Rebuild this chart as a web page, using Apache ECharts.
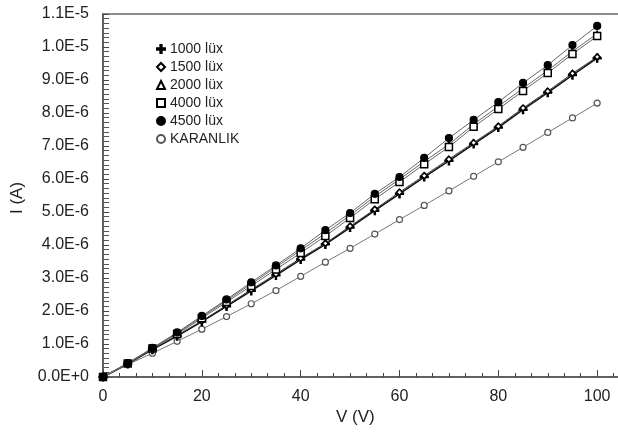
<!DOCTYPE html>
<html>
<head>
<meta charset="utf-8">
<script src="https://cdn.jsdelivr.net/npm/echarts@6/dist/echarts.min.js"></script>
<style>html,body{margin:0;padding:0;background:#fff;overflow:hidden}#c{width:618px;height:434px}</style>
</head>
<body>
<div id="c"></div>
<script>
var voltages = [0,5,10,15,20,25,30,35,40,45,50,55,60,65,70,75,80,85,90,95,100];
// currents in microamperes
var lux1000 = [0,0.40,0.83,1.24,1.68,2.14,2.61,3.08,3.56,4.02,4.53,5.04,5.55,6.06,6.55,7.06,7.56,8.10,8.62,9.15,9.66];
var lux1500 = [0,0.40,0.84,1.26,1.70,2.17,2.65,3.12,3.60,4.05,4.57,5.08,5.60,6.10,6.60,7.10,7.60,8.15,8.66,9.20,9.70];
var lux2000 = [0,0.42,0.87,1.33,1.82,2.32,2.82,3.33,3.84,4.35,4.90,5.47,5.99,6.53,7.05,7.66,8.20,8.75,9.29,9.87,10.40];
var lux4000 = [0,0.41,0.86,1.30,1.78,2.27,2.76,3.26,3.76,4.27,4.82,5.39,5.91,6.45,6.97,7.58,8.12,8.67,9.21,9.79,10.33];
var lux4500 = [0,0.42,0.88,1.35,1.85,2.35,2.87,3.38,3.90,4.45,4.97,5.55,6.06,6.64,7.24,7.79,8.33,8.91,9.45,10.06,10.64];
var karanlik = [0,0.38,0.72,1.08,1.45,1.83,2.22,2.62,3.05,3.48,3.90,4.33,4.77,5.20,5.64,6.08,6.52,6.96,7.41,7.85,8.30];
var seriesNames = ['1000 lüx','1500 lüx','2000 lüx','4000 lüx','4500 lüx','KARANLIK'];
var xTicks = [0,20,40,60,80,100];
var yTicks = ['0.0E+0','1.0E-6','2.0E-6','3.0E-6','4.0E-6','5.0E-6','6.0E-6','7.0E-6','8.0E-6','9.0E-6','1.0E-5','1.1E-5'];

var plusPath = 'path://M4.2,0 L5.8,0 L5.8,4.2 L10,4.2 L10,5.8 L5.8,5.8 L5.8,10 L4.2,10 L4.2,5.8 L0,5.8 L0,4.2 L4.2,4.2 Z';

function pts(arr){ return voltages.map(function(v,i){ return [v, arr[i]*1e-6]; }); }

var FONT = 'Liberation Sans, Arial, sans-serif';
var chart = echarts.init(document.getElementById('c'), null, {renderer:'canvas'});

function mk(name, data, symbol, size, fill, border, lineColor, lineWidth, bw){
  return {
    name: name, type: 'line', data: pts(data), symbol: symbol, symbolSize: size,
    showAllSymbol: true,
    itemStyle: {color: fill, borderColor: border, borderWidth: bw || 1.2},
    lineStyle: {color: lineColor, width: lineWidth},
    emphasis: {disabled: true}, animation: false, z: 3
  };
}

var option = {
  animation: false,
  backgroundColor: '#fff',
  grid: {left: 103, top: 14, width: 593, height: 363, outerBoundsMode: 'none', containLabel: false,
         show: true, borderColor: '#666', borderWidth: 1.5, backgroundColor: 'transparent'},
  legend: {
    orient: 'vertical', left: 151, top: 37, itemWidth: 8, itemHeight: 8, itemGap: 4,
    textStyle: {fontFamily: FONT, fontSize: 14, color: '#222', lineHeight: 14},
    data: [
      {name: seriesNames[0], icon: plusPath},
      {name: seriesNames[1], icon: 'diamond'},
      {name: seriesNames[2], icon: 'triangle'},
      {name: seriesNames[3], icon: 'rect'},
      {name: seriesNames[4], icon: 'circle'},
      {name: seriesNames[5], icon: 'circle'}
    ]
  },
  xAxis: {
    type: 'value', min: 0, max: 120, interval: 20,
    axisLine: {show: true, onZero: false, lineStyle: {color: '#555', width: 1.5}},
    axisTick: {show: true, inside: true, length: 7, lineStyle: {color: '#444'}},
    minorTick: {show: true, splitNumber: 6, length: 4, lineStyle: {color: '#444'}},
    splitLine: {show: false},
    axisLabel: {fontFamily: FONT, fontSize: 16, color: '#222', margin: 12,
      formatter: function(v){ return xTicks.indexOf(Math.round(v)) >= 0 ? String(Math.round(v)) : ''; }}
  },
  yAxis: {
    type: 'value', min: 0, max: 1.1e-5, interval: 1e-6,
    axisLine: {show: true, lineStyle: {color: '#555', width: 1.5}},
    axisTick: {show: true, inside: true, length: 6, lineStyle: {color: '#444'}},
    minorTick: {show: true, splitNumber: 7, length: 6, lineStyle: {color: '#555'}},
    splitLine: {show: false},
    axisLabel: {fontFamily: FONT, fontSize: 16, color: '#222', margin: 14,
      formatter: function(v){ var i = Math.round(v/1e-6); return yTicks[i] !== undefined ? yTicks[i] : ''; }}
  },
  graphic: [
    {type: 'text', left: 336, top: 409, style: {text: 'V (V)', font: '17px ' + FONT, fill: '#222'}},
    {type: 'text', x: 17, y: 198, rotation: Math.PI/2, style: {text: 'I (A)', font: '17px ' + FONT, fill: '#222', textAlign: 'center', textVerticalAlign: 'middle'}}
  ],
  series: [
    mk(seriesNames[5], karanlik, 'circle', 6, '#fff', '#555', '#777', 1),
    mk(seriesNames[0], lux1000, plusPath, 8, '#000', '#000', '#111', 1.5),
    mk(seriesNames[1], lux1500, 'diamond', 6, '#fff', '#000', '#333', 1, 1.6),
    mk(seriesNames[2], lux2000, 'triangle', 6, '#fff', '#000', '#666', 1),
    mk(seriesNames[3], lux4000, 'rect', 7, '#fff', '#000', '#666', 1, 1.5),
    mk(seriesNames[4], lux4500, 'circle', 7, '#000', '#000', '#666', 1)
  ]
};
chart.setOption(option);
</script>
</body>
</html>
